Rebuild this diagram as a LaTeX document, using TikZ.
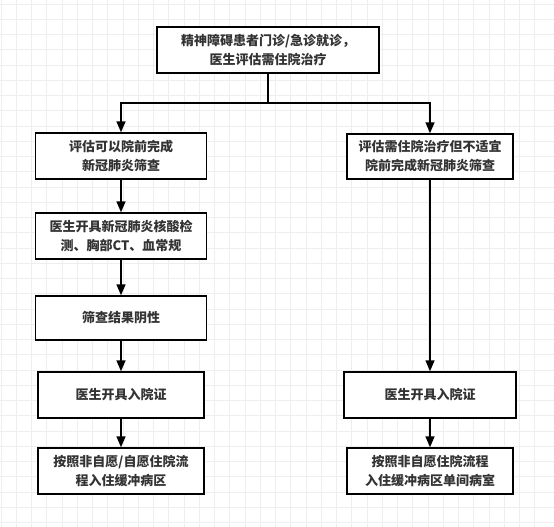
\documentclass[tikz,border=0pt]{standalone}
\usepackage{fontspec}
\setmainfont{Noto Sans CJK SC}
\usepackage{xcolor}
\usetikzlibrary{arrows.meta, positioning}
\definecolor{textgray}{HTML}{333333}
\definecolor{gridgray}{HTML}{EEEEEE}

\begin{document}
\begin{tikzpicture}[
  x=1pt, y=-1pt,
  line join=miter,
  box/.style={draw=black, line width=1.4pt, fill=white, align=center,
    inner sep=0pt, text=textgray,
    font=\fontsize{13}{19}\selectfont\bfseries},
  flow/.style={line width=1.4pt, -{Triangle[width=9pt, length=11pt]}},
  gridline/.style={gridgray, line width=0.8pt}
]
  \useasboundingbox (0,0) rectangle (554,527);
  \fill[white] (0,0) rectangle (554,527);

  % background grid
  \foreach \i in {0,...,35}
    \draw[gridline] ({1+15.25*\i},0) -- ++(0,527);
  \foreach \j in {0,...,34}
    \draw[gridline] (0,{4+15.25*\j}) -- ++(554,0);

  % start
  \node[box, minimum width=222pt, minimum height=46pt] (top) at (268,50)
    {精神障碍患者门诊/急诊就诊，\\医生评估需住院治疗};

  % left branch
  \node[box, minimum width=171pt, minimum height=46pt] (l1) at (121,156)
    {评估可以院前完成\\新冠肺炎筛查};
  \node[box, minimum width=171pt, minimum height=46pt] (l2) at (121,236)
    {医生开具新冠肺炎核酸检\\测、胸部CT、血常规};
  \node[box, minimum width=171pt, minimum height=44pt] (l3) at (121,318)
    {筛查结果阴性};
  \node[box, minimum width=166pt, minimum height=46pt] (l4) at (121,395)
    {医生开具入院证};
  \node[box, minimum width=166pt, minimum height=46pt] (l5) at (121,471)
    {按照非自愿/自愿住院流\\程入住缓冲病区};

  % right branch
  \node[box, minimum width=166pt, minimum height=45pt] (r1) at (430,156.5)
    {评估需住院治疗但不适宜\\院前完成新冠肺炎筛查};
  \node[box, minimum width=172pt, minimum height=46pt] (r4) at (430,395)
    {医生开具入院证};
  \node[box, minimum width=166pt, minimum height=46pt] (r5) at (430,471)
    {按照非自愿住院流程\\入住缓冲病区单间病室};

  % connectors
  \coordinate (fork) at (268,103);
  \draw[line width=1.4pt] (top.south) -- (fork);
  \draw[flow] (fork) -| (l1.north);
  \draw[flow] (fork) -| (r1.north);

  \draw[flow] (l1) -- (l2);
  \draw[flow] (l2) -- (l3);
  \draw[flow] (l3) -- (l4);
  \draw[flow] (l4) -- (l5);

  \draw[flow] (r1) -- (r4);
  \draw[flow] (r4) -- (r5);
\end{tikzpicture}
\end{document}
